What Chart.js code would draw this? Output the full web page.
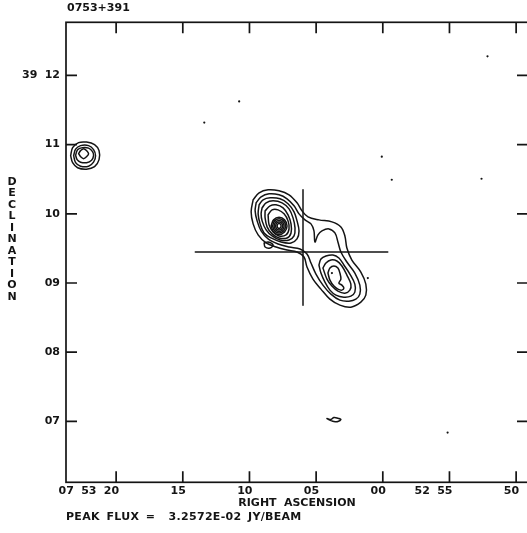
<!DOCTYPE html>
<html>
<head>
<meta charset="utf-8">
<title>0753+391</title>
<script src="https://cdn.jsdelivr.net/npm/chart.js@4.4.1/dist/chart.umd.min.js"></script>
<style>
  html, body { margin: 0; padding: 0; background: #ffffff; overflow: hidden; }
  canvas { display: block; }
</style>
</head>
<body>
<canvas id="map" width="532" height="533"></canvas>
<script>
// ---- Axis ticks (RA in seconds past 07h52m, Dec in arcmin past +39 deg) ----
const RA_TICK_VALUES = [80, 75, 70, 65, 60, 55, 50];
const RA_TICK_LABELS = ['07 53 20', '15', '10', '05', '00', '52 55', '50'];
const DEC_TICK_VALUES = [12, 11, 10, 9, 8, 7];
const DEC_TICK_LABELS = ['39 12', '11', '10', '09', '08', '07'];

const SOURCE_NAME = '0753+391';
const X_TITLE = 'RIGHT ASCENSION';
const Y_TITLE = 'DECLINATION';
const PEAK_TEXT = 'PEAK FLUX =  3.2572E-02 JY/BEAM';

// Map reference position (07 53 05.99, +39 09 26.9) and grid cell size
const MAP_CENTER = { ra: 65.985, dec: 9.448 };
const CELL_ARCSEC = 0.87;

// ---- Contours: vertices in map cells [east, north] from the reference position ----
// outer level, encloses both lobes
const MAIN_LEVEL_1 = [[50,52],[44,59],[35,62],[24,61],[14,57],[6,49],[1,41],[-5,35],[-16,32],[-29,30],[-38,25],[-42,16],[-44,4],[-49,-8],[-58,-20],[-63,-32],[-63,-43],[-58,-50],[-48,-55],[-37,-53],[-27,-47],[-18,-37],[-10,-27],[-4,-15],[-1,-5],[6,0],[16,2],[27,5],[37,9],[45,17],[50,28],[52,40]];
const MAIN_LEVEL_2 = [[47,49],[42,55],[34,58],[24,57],[16,53],[9,46],[4,38],[-2,32],[-8,28],[-11,21],[-12,10],[-15,17],[-19,21],[-26,23],[-32,19],[-35,10],[-38,0],[-44,-10],[-52,-21],[-57,-33],[-57,-42],[-53,-47],[-46,-49],[-37,-48],[-28,-42],[-20,-33],[-13,-22],[-8,-11],[-4,-2],[3,3],[14,5],[25,8],[35,13],[42,21],[46,31],[48,41]];
// north-east lobe
const NE_LEVEL_3 = [[44,47],[40,52],[33,54],[23,53],[15,48],[9,40],[6,31],[4,21],[6,13],[12,9],[22,10],[32,14],[39,19],[43,28],[45,38]];
const NE_LEVEL_4 = [[41,44],[37,49],[30,51],[21,49],[14,43],[10,34],[8,24],[9,16],[14,12],[23,12],[31,16],[37,22],[41,31],[42,38]];
const NE_LEVEL_5 = [[38,41],[33,46],[27,47],[20,44],[15,37],[12,28],[12,19],[16,14],[24,14],[31,18],[36,25],[38,34]];
const NE_LEVEL_6 = [[35,37],[31,42],[25,42],[19,38],[15,31],[14,23],[17,17],[24,16],[30,20],[34,27]];
const CORE_LEVEL_7 = [[32,26],[29.5,32],[24,34.5],[18.5,32],[16,26],[18.5,20],[24,17.5],[29.5,20]];
const CORE_LEVEL_8 = [[30.5,26],[28.5,31],[24,33],[19.5,31],[17.5,26],[19.5,21],[24,19],[28.5,21]];
const CORE_LEVEL_9 = [[29,26],[27.5,30],[24,31.5],[20.5,30],[19,26],[20.5,22],[24,20.5],[27.5,22]];
const CORE_LEVEL_10 = [[27.5,26],[26.5,29],[24,30],[21.5,29],[20.5,26],[21.5,23],[24,22],[26.5,23]];
const CORE_LEVEL_11 = [[26,26],[25.4,27.8],[24,28.5],[22.6,27.8],[22,26],[22.6,24.2],[24,23.5],[25.4,24.2]];
const NE_KNOT = [[39,9],[35,10],[30,7],[33,4],[38,5]];
// south-west lobe
const SW_LEVEL_3 = [[-16,-13],[-18,-7],[-23,-4],[-30,-3],[-36,-6],[-41,-13],[-47,-22],[-52,-32],[-52,-40],[-48,-44],[-41,-45],[-33,-43],[-27,-38],[-22,-30],[-18,-21]];
const SW_LEVEL_4 = [[-20,-16],[-23,-11],[-28,-8],[-34,-9],[-39,-14],[-44,-23],[-48,-32],[-47,-38],[-42,-41],[-35,-39],[-29,-34],[-24,-27]];
const SW_LEVEL_5 = [[-25,-21],[-27,-16],[-31,-14],[-35,-16],[-37,-21],[-38,-27],[-36,-31],[-39,-33],[-41,-36],[-39,-38],[-35,-37],[-31,-34],[-27,-28]];
// compact source to the north-east
const NE_SOURCE_1 = [[233,96],[231,104],[225,109],[217,109.5],[209,107],[204.5,101],[204.5,92],[209,85],[217,82.5],[226,84],[231,89]];
const NE_SOURCE_2 = [[230,96],[228,102.5],[223,106],[215,106],[210,102],[208,96],[210,89.5],[215,85.5],[223,85.5],[228,89]];
const NE_SOURCE_3 = [[228,96.5],[226,102],[221,104],[215,103.5],[211,100],[210,96],[212,91.5],[217,89],[223,89.5],[226.5,92]];
const NE_SOURCE_4 = [[225,98],[223,101],[220,103],[217,101],[215,98],[217,95],[220,93],[223,95]];
// noise
const NOISE_FRAGMENT = [[-24,-166],[-28,-167],[-31,-165],[-36,-166],[-38,-167],[-35,-169],[-31,-169],[-28,-168]];
const NOISE_SPOTS = [[-185,195],[64,150],[99,129],[-79,95],[-89,72],[-179,73],[-145,-180],[-65,-26],[-29,-21]];
// cross marking the catalogue position
const CROSS_EW = [[108,0],[-85,0]];
const CROSS_NS = [[0,62],[0,-53]];

const CLOSED_CONTOURS = [
  MAIN_LEVEL_1, MAIN_LEVEL_2,
  NE_LEVEL_3, NE_LEVEL_4, NE_LEVEL_5, NE_LEVEL_6,
  CORE_LEVEL_7, CORE_LEVEL_8, CORE_LEVEL_9, CORE_LEVEL_10, CORE_LEVEL_11, NE_KNOT,
  SW_LEVEL_3, SW_LEVEL_4, SW_LEVEL_5,
  NE_SOURCE_1, NE_SOURCE_2, NE_SOURCE_3, NE_SOURCE_4,
  NOISE_FRAGMENT
];

const INK = '#141414';
const TICK_LEN = 11;
const FONT_FAMILY = '"DejaVu Sans", "Liberation Sans", sans-serif';

const COS_DEC = Math.cos((39 + MAP_CENTER.dec / 60) * Math.PI / 180);
function toSky(cell) {
  return {
    x: MAP_CENTER.ra + cell[0] * CELL_ARCSEC / (15 * COS_DEC),
    y: MAP_CENTER.dec + cell[1] * CELL_ARCSEC / 60
  };
}
function closedPath(cells) {
  const pts = cells.map(toSky);
  pts.push(pts[0]);
  return pts;
}

const lineStyle = {
  showLine: true, fill: false, pointRadius: 0, pointHoverRadius: 0,
  borderColor: INK, borderWidth: 1.5, borderJoinStyle: 'round', borderCapStyle: 'round'
};

const datasets = [];
CLOSED_CONTOURS.forEach(c => datasets.push(Object.assign({ data: closedPath(c), tension: 0.35 }, lineStyle)));
datasets.push(Object.assign({ data: CROSS_EW.map(toSky), tension: 0 }, lineStyle));
datasets.push(Object.assign({ data: CROSS_NS.map(toSky), tension: 0 }, lineStyle));
datasets.push({
  data: NOISE_SPOTS.map(toSky), showLine: false,
  pointRadius: 1.1, pointBorderWidth: 0, pointBackgroundColor: INK, pointHoverRadius: 1.1
});

// Frame with inward ticks on all sides, plus the map annotations
const mapFrame = {
  id: 'mapFrame',
  beforeDraw(chart) {
    chart.ctx.wordSpacing = '3.5px';
  },
  afterDraw(chart) {
    const { ctx, chartArea: a, scales } = chart;
    ctx.save();
    ctx.strokeStyle = INK;
    ctx.lineWidth = 1.7;
    ctx.strokeRect(a.left, a.top, a.right - a.left, a.bottom - a.top);
    ctx.beginPath();
    RA_TICK_VALUES.forEach(v => {
      const px = scales.x.getPixelForValue(v);
      ctx.moveTo(px, a.bottom); ctx.lineTo(px, a.bottom - TICK_LEN);
      ctx.moveTo(px, a.top); ctx.lineTo(px, a.top + TICK_LEN);
    });
    DEC_TICK_VALUES.forEach(v => {
      const py = scales.y.getPixelForValue(v);
      ctx.moveTo(a.left, py); ctx.lineTo(a.left + TICK_LEN, py);
      ctx.moveTo(a.right, py); ctx.lineTo(a.right - TICK_LEN, py);
    });
    ctx.stroke();

    ctx.fillStyle = INK;
    ctx.font = 'bold 11px ' + FONT_FAMILY;
    ctx.textBaseline = 'middle';
    ctx.textAlign = 'left';
    ctx.fillText(SOURCE_NAME, a.left + 1, 8.5);
    ctx.wordSpacing = '2.5px';
    ctx.letterSpacing = '0.3px';
    ctx.fillText(PEAK_TEXT, a.left, 517);
    ctx.letterSpacing = '0px';
    ctx.textAlign = 'center';
    Array.from(Y_TITLE).forEach((ch, i) => ctx.fillText(ch, 12, 182 + i * 11.5));
    ctx.restore();
  }
};

new Chart(document.getElementById('map'), {
  type: 'scatter',
  data: { datasets },
  plugins: [mapFrame],
  options: {
    responsive: false,
    animation: false,
    devicePixelRatio: 1,
    events: [],
    layout: { padding: { top: 22.3, right: 4, bottom: 0, left: 0 } },
    plugins: { legend: { display: false }, tooltip: { enabled: false } },
    scales: {
      x: {
        type: 'linear', position: 'bottom', reverse: true,
        min: 49.11, max: 83.76,
        afterBuildTicks: s => { s.ticks = RA_TICK_VALUES.map(v => ({ value: v })); },
        afterFit: s => { s.height = 50.7; },
        grid: { display: false, drawTicks: false },
        border: { display: false },
        ticks: {
          autoSkip: false, maxRotation: 0, align: 'end', labelOffset: 3, padding: 2,
          color: INK, font: { family: FONT_FAMILY, weight: 'bold', size: 11 },
          callback: (v, i) => RA_TICK_LABELS[i]
        },
        title: {
          display: true, text: X_TITLE, color: INK,
          font: { family: FONT_FAMILY, weight: 'bold', size: 11 },
          padding: { top: 0, bottom: 23 }
        }
      },
      y: {
        type: 'linear', position: 'left',
        min: 6.12, max: 12.767,
        afterBuildTicks: s => { s.ticks = DEC_TICK_VALUES.map(v => ({ value: v })); },
        afterFit: s => { s.width = 66; },
        grid: { display: false, drawTicks: false },
        border: { display: false },
        ticks: {
          autoSkip: false, padding: 6,
          color: INK, font: { family: FONT_FAMILY, weight: 'bold', size: 11 },
          callback: (v, i) => DEC_TICK_LABELS[i]
        }
      }
    }
  }
});
</script>
</body>
</html>
